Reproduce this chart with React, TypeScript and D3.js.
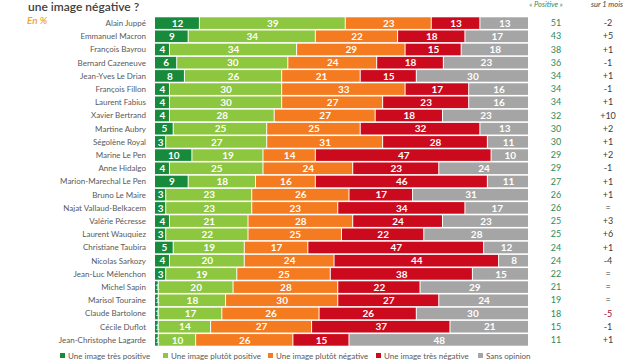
import React from "react";
import * as d3 from "d3";

const names = ["Alain Juppé","Emmanuel Macron","François Bayrou","Bernard Cazeneuve","Jean-Yves Le Drian","François Fillon","Laurent Fabius","Xavier Bertrand","Martine Aubry","Ségolène Royal","Marine Le Pen","Anne Hidalgo","Marion-Marechal Le Pen","Bruno Le Maire","Najat Vallaud-Belkacem","Valérie Pécresse","Laurent Wauquiez","Christiane Taubira","Nicolas Sarkozy","Jean-Luc Mélenchon","Michel Sapin","Marisol Touraine","Claude Bartolone","Cécile Duflot","Jean-Christophe Lagarde"];
const tresPositive = [12,9,4,6,8,4,4,4,5,3,10,4,9,3,3,4,3,5,4,3,1,1,1,1,1];
const plutotPositive = [39,34,34,30,26,30,30,28,25,27,19,25,18,23,23,21,22,19,20,19,20,18,17,14,10];
const plutotNegative = [23,22,29,24,21,33,27,27,25,31,14,24,16,26,23,28,25,17,24,25,28,30,26,27,26];
const tresNegative = [13,18,15,18,15,17,23,18,32,28,47,23,46,17,34,24,22,47,44,38,22,27,26,37,15];
const sansOpinion = [13,17,18,23,30,16,16,23,13,11,10,24,11,31,17,23,28,12,8,15,29,24,30,21,48];
const positive = [51,43,38,36,34,34,34,32,30,30,29,29,27,26,26,25,25,24,24,22,21,19,18,15,11];
const evolution = ["-2","+5","+1","-1","+1","-1","+1","+10","+2","+1","+2","-1","+1","+1","=","+3","+6","+1","-4","=","=","=","-5","-1","+1"];
const seriesLabels = ["Une image très positive","Une image plutôt positive","Une image plutôt négative","Une image très négative","Sans opinion"];
const seriesColors = ["#178a3c","#8dc63f","#f47b20","#cc0a1e","#a5a5a5"];

const W = 640, H = 360;
const FONT = "Lato, 'Open Sans', sans-serif";

export default function App() {
  const series = [tresPositive, plutotPositive, plutotNegative, tresNegative, sansOpinion];
  const rows = names.map((n, i) => {
    const vals = series.map(s => s[i]);
    const total = d3.sum(vals);
    let acc = 0;
    const segs = vals.map((v, k) => {
      const s = { k, v, x0: acc / total * 100, x1: (acc + v) / total * 100 };
      acc += v;
      return s;
    });
    return { n, i, segs };
  });
  const x = d3.scaleLinear().domain([0, 100]).range([155, 529]);
  const y = d3.scaleBand<string>().domain(names).range([16.5, 346.5]).paddingInner(0.12).paddingOuter(0.06);
  const legendX = [60, 163, 268, 376, 478];

  return (
    <svg width={W} height={H} style={{ position: "absolute", left: 0, top: 0, background: "#fff" }} fontFamily={FONT}>
      <rect width={W} height={H} fill="#fff" />
      <text x={28} y={11} fontSize={12} fill="#404040" fontWeight={600}>une image négative ?</text>
      <text x={27} y={24} fontSize={10} fill="#f0a030" fontStyle="italic" fontWeight={600}>En %</text>
      <text x={546} y={7} fontSize={7.5} fill="#2e8b57" fontStyle="italic" textAnchor="middle">« Positive »</text>
      <text x={607} y={7} fontSize={7.5} fill="#404040" fontStyle="italic" textAnchor="middle">sur 1 mois</text>
      {rows.map(r => {
        const yy = y(r.n)!;
        const bh = y.bandwidth();
        const cy = yy + bh / 2;
        return (
          <g key={r.n}>
            <text x={146} y={cy} dy="0.35em" fontSize={8} fill="#595959" textAnchor="end">{r.n}</text>
            {r.segs.map(s => (
              <rect key={s.k} x={x(s.x0)} y={yy} width={Math.max(0, x(s.x1) - x(s.x0) - 1)} height={bh} fill={seriesColors[s.k]} />
            ))}
            {r.segs.map(s => {
              const w = x(s.x1) - x(s.x0);
              const cx = w < 6 ? x(s.x0) + 2.5 : (x(s.x0) + x(s.x1)) / 2;
              return (
                <text key={"t" + s.k} x={cx} y={cy} dy="0.36em" fontSize={s.v < 2 ? 8 : 10} fontWeight={700} fill={s.v < 2 ? "#dff0d0" : "#ffffff"} textAnchor="middle">{s.v}</text>
              );
            })}
            <text x={556} y={cy} dy="0.35em" fontSize={9} fill="#2e8b57" textAnchor="middle">{positive[r.i]}</text>
            <text x={608} y={cy} dy="0.35em" fontSize={9} fill={evolution[r.i] === "-5" ? "#a0102a" : "#404040"} textAnchor="middle">{evolution[r.i]}</text>
          </g>
        );
      })}
      {seriesLabels.map((l, k) => (
        <g key={l}>
          <rect x={legendX[k]} y={353} width={5} height={5} fill={seriesColors[k]} />
          <text x={legendX[k] + 8} y={356} dy="0.35em" fontSize={8} fill="#595959">{l}</text>
        </g>
      ))}
    </svg>
  );
}
